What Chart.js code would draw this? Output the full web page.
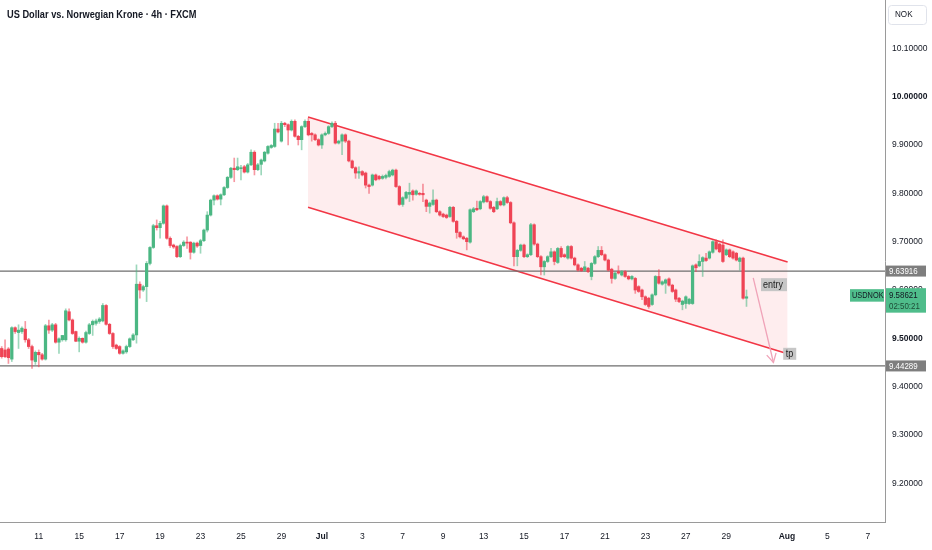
<!DOCTYPE html>
<html>
<head>
<meta charset="utf-8">
<script src="https://cdn.jsdelivr.net/npm/chart.js@4.4.1/dist/chart.umd.min.js"></script>
<style>
  html, body { margin: 0; padding: 0; background: #ffffff; }
  #wrap { position: relative; width: 932px; height: 550px; }
</style>
</head>
<body>
<div id="wrap"><canvas id="chart"></canvas></div>
<script>
// USDNOK 4h candles, 11 Jun - 30 Jul (index 0 = first candle on screen)
const opens = [
  9.479, 9.476, 9.478, 9.457, 9.522, 9.512, 9.514, 9.519, 9.497, 9.483,
  9.452, 9.471, 9.466, 9.457, 9.526, 9.517, 9.528, 9.492, 9.497, 9.497,
  9.555, 9.538, 9.514, 9.494, 9.500, 9.492, 9.510, 9.528, 9.531, 9.535,
  9.536, 9.568, 9.529, 9.510, 9.486, 9.483, 9.469, 9.472, 9.483, 9.497,
  9.507, 9.612, 9.600, 9.607, 9.655, 9.688, 9.733, 9.729, 9.738, 9.774,
  9.707, 9.693, 9.690, 9.669, 9.692, 9.699, 9.699, 9.678, 9.697, 9.692,
  9.702, 9.724, 9.755, 9.786, 9.795, 9.788, 9.797, 9.812, 9.833, 9.852,
  9.849, 9.851, 9.855, 9.844, 9.859, 9.885, 9.849, 9.860, 9.867, 9.883,
  9.895, 9.897, 9.933, 9.908, 9.945, 9.942, 9.931, 9.949, 9.918, 9.911,
  9.938, 9.949, 9.924, 9.921, 9.911, 9.900, 9.921, 9.924, 9.938, 9.945,
  9.904, 9.908, 9.921, 9.908, 9.867, 9.853, 9.842, 9.845, 9.842, 9.817,
  9.817, 9.838, 9.835, 9.831, 9.833, 9.835, 9.838, 9.848, 9.814, 9.777,
  9.790, 9.798, 9.805, 9.798, 9.800, 9.800, 9.786, 9.773, 9.777, 9.786,
  9.762, 9.757, 9.755, 9.752, 9.771, 9.742, 9.719, 9.710, 9.707, 9.699,
  9.762, 9.769, 9.768, 9.782, 9.793, 9.783, 9.771, 9.768, 9.783, 9.776,
  9.791, 9.781, 9.739, 9.669, 9.682, 9.693, 9.669, 9.673, 9.735, 9.695,
  9.669, 9.648, 9.659, 9.669, 9.679, 9.657, 9.686, 9.673, 9.666, 9.690,
  9.666, 9.652, 9.645, 9.641, 9.645, 9.628, 9.655, 9.669, 9.682, 9.673,
  9.662, 9.643, 9.624, 9.638, 9.631, 9.638, 9.628, 9.623, 9.624, 9.607,
  9.600, 9.586, 9.583, 9.570, 9.590, 9.628, 9.612, 9.614, 9.623, 9.610,
  9.600, 9.583, 9.570, 9.572, 9.572, 9.572, 9.652, 9.650, 9.659, 9.666,
  9.666, 9.678, 9.700, 9.695, 9.693, 9.673, 9.683, 9.679, 9.676, 9.659,
  9.666, 9.583
];
const highs = [
  9.483, 9.497, 9.481, 9.524, 9.524, 9.528, 9.524, 9.535, 9.500, 9.486,
  9.474, 9.476, 9.469, 9.529, 9.538, 9.531, 9.531, 9.501, 9.506, 9.561,
  9.561, 9.540, 9.515, 9.503, 9.501, 9.515, 9.531, 9.538, 9.540, 9.543,
  9.572, 9.570, 9.531, 9.512, 9.488, 9.485, 9.476, 9.486, 9.501, 9.510,
  9.652, 9.617, 9.610, 9.659, 9.690, 9.736, 9.745, 9.742, 9.776, 9.776,
  9.710, 9.695, 9.692, 9.695, 9.702, 9.710, 9.700, 9.699, 9.699, 9.705,
  9.726, 9.762, 9.788, 9.797, 9.797, 9.799, 9.814, 9.835, 9.854, 9.873,
  9.873, 9.858, 9.858, 9.862, 9.890, 9.888, 9.862, 9.871, 9.887, 9.899,
  9.901, 9.945, 9.945, 9.949, 9.947, 9.944, 9.952, 9.952, 9.920, 9.940,
  9.952, 9.955, 9.926, 9.923, 9.913, 9.923, 9.927, 9.940, 9.948, 9.949,
  9.910, 9.923, 9.923, 9.910, 9.869, 9.855, 9.855, 9.847, 9.844, 9.819,
  9.840, 9.840, 9.837, 9.838, 9.840, 9.848, 9.850, 9.850, 9.816, 9.793,
  9.804, 9.821, 9.807, 9.807, 9.802, 9.819, 9.788, 9.782, 9.807, 9.788,
  9.764, 9.759, 9.757, 9.773, 9.773, 9.744, 9.721, 9.712, 9.709, 9.768,
  9.771, 9.784, 9.785, 9.796, 9.795, 9.785, 9.773, 9.790, 9.785, 9.793,
  9.794, 9.783, 9.741, 9.684, 9.695, 9.695, 9.675, 9.738, 9.737, 9.697,
  9.671, 9.661, 9.671, 9.686, 9.681, 9.688, 9.690, 9.675, 9.692, 9.692,
  9.668, 9.654, 9.647, 9.659, 9.647, 9.657, 9.671, 9.690, 9.690, 9.675,
  9.664, 9.645, 9.637, 9.650, 9.640, 9.640, 9.630, 9.630, 9.626, 9.609,
  9.602, 9.588, 9.585, 9.592, 9.630, 9.642, 9.619, 9.623, 9.625, 9.612,
  9.602, 9.585, 9.579, 9.588, 9.583, 9.652, 9.654, 9.673, 9.669, 9.676,
  9.681, 9.702, 9.704, 9.697, 9.704, 9.685, 9.685, 9.681, 9.678, 9.668,
  9.668, 9.600
];
const lows = [
  9.459, 9.460, 9.448, 9.452, 9.510, 9.479, 9.510, 9.492, 9.479, 9.438,
  9.446, 9.441, 9.455, 9.455, 9.510, 9.514, 9.490, 9.469, 9.494, 9.494,
  9.536, 9.508, 9.493, 9.472, 9.490, 9.490, 9.508, 9.506, 9.527, 9.531,
  9.534, 9.527, 9.508, 9.479, 9.477, 9.467, 9.467, 9.469, 9.481, 9.495,
  9.490, 9.583, 9.597, 9.576, 9.652, 9.686, 9.724, 9.707, 9.736, 9.705,
  9.688, 9.686, 9.667, 9.667, 9.690, 9.686, 9.664, 9.676, 9.688, 9.676,
  9.700, 9.720, 9.753, 9.776, 9.786, 9.776, 9.795, 9.810, 9.831, 9.824,
  9.847, 9.828, 9.842, 9.842, 9.857, 9.838, 9.847, 9.838, 9.865, 9.881,
  9.893, 9.895, 9.925, 9.906, 9.938, 9.900, 9.929, 9.916, 9.900, 9.890,
  9.936, 9.919, 9.908, 9.909, 9.898, 9.893, 9.919, 9.922, 9.936, 9.902,
  9.902, 9.880, 9.905, 9.865, 9.851, 9.831, 9.831, 9.836, 9.811, 9.800,
  9.815, 9.826, 9.828, 9.829, 9.830, 9.833, 9.836, 9.812, 9.775, 9.773,
  9.788, 9.783, 9.786, 9.796, 9.796, 9.783, 9.762, 9.759, 9.775, 9.760,
  9.753, 9.750, 9.748, 9.750, 9.740, 9.707, 9.708, 9.704, 9.683, 9.697,
  9.760, 9.764, 9.766, 9.780, 9.781, 9.767, 9.760, 9.766, 9.774, 9.774,
  9.779, 9.737, 9.650, 9.650, 9.680, 9.667, 9.667, 9.671, 9.693, 9.667,
  9.631, 9.631, 9.657, 9.667, 9.652, 9.655, 9.667, 9.667, 9.664, 9.664,
  9.650, 9.639, 9.638, 9.639, 9.636, 9.621, 9.653, 9.667, 9.671, 9.660,
  9.639, 9.614, 9.622, 9.633, 9.629, 9.626, 9.621, 9.621, 9.593, 9.595,
  9.580, 9.568, 9.562, 9.568, 9.588, 9.612, 9.610, 9.593, 9.608, 9.595,
  9.576, 9.574, 9.559, 9.562, 9.570, 9.570, 9.638, 9.648, 9.628, 9.659,
  9.664, 9.676, 9.683, 9.677, 9.657, 9.671, 9.667, 9.664, 9.660, 9.641,
  9.581, 9.566
];
const closes = [
  9.462, 9.462, 9.460, 9.522, 9.514, 9.517, 9.521, 9.497, 9.483, 9.455,
  9.471, 9.466, 9.457, 9.526, 9.517, 9.528, 9.492, 9.499, 9.506, 9.557,
  9.538, 9.510, 9.494, 9.500, 9.492, 9.512, 9.528, 9.535, 9.536, 9.540,
  9.568, 9.529, 9.510, 9.483, 9.479, 9.469, 9.474, 9.483, 9.499, 9.507,
  9.612, 9.600, 9.607, 9.655, 9.688, 9.733, 9.729, 9.738, 9.774, 9.707,
  9.692, 9.689, 9.669, 9.692, 9.699, 9.697, 9.678, 9.697, 9.691, 9.702,
  9.724, 9.755, 9.786, 9.795, 9.788, 9.797, 9.812, 9.833, 9.852, 9.849,
  9.855, 9.853, 9.844, 9.859, 9.885, 9.849, 9.859, 9.869, 9.885, 9.897,
  9.899, 9.933, 9.927, 9.945, 9.942, 9.931, 9.949, 9.918, 9.911, 9.938,
  9.949, 9.921, 9.921, 9.911, 9.900, 9.921, 9.924, 9.938, 9.945, 9.904,
  9.908, 9.921, 9.908, 9.867, 9.853, 9.842, 9.845, 9.838, 9.817, 9.814,
  9.838, 9.828, 9.830, 9.835, 9.837, 9.845, 9.848, 9.814, 9.777, 9.791,
  9.802, 9.802, 9.797, 9.805, 9.798, 9.797, 9.773, 9.780, 9.786, 9.762,
  9.755, 9.752, 9.750, 9.771, 9.742, 9.719, 9.710, 9.706, 9.700, 9.766,
  9.768, 9.766, 9.783, 9.793, 9.783, 9.769, 9.762, 9.783, 9.776, 9.791,
  9.781, 9.739, 9.669, 9.682, 9.693, 9.669, 9.673, 9.735, 9.695, 9.669,
  9.648, 9.659, 9.669, 9.679, 9.659, 9.686, 9.669, 9.669, 9.690, 9.666,
  9.652, 9.641, 9.640, 9.648, 9.638, 9.655, 9.669, 9.682, 9.673, 9.662,
  9.641, 9.624, 9.635, 9.635, 9.638, 9.628, 9.623, 9.628, 9.600, 9.597,
  9.586, 9.570, 9.566, 9.590, 9.628, 9.614, 9.617, 9.621, 9.610, 9.597,
  9.581, 9.576, 9.577, 9.586, 9.581, 9.650, 9.646, 9.659, 9.667, 9.661,
  9.679, 9.700, 9.685, 9.679, 9.659, 9.683, 9.669, 9.666, 9.662, 9.666,
  9.583, 9.586
];

// time axis: tick positions are candle indices
const xTickPos = [11, 23, 35, 47, 59, 71, 83, 95, 107, 119, 131, 143, 155, 167, 179, 191, 203, 215, 233, 245, 257];
const xTickLabels = ["11", "15", "17", "19", "23", "25", "29", "Jul", "3", "7", "9", "13", "15", "17", "21", "23", "27", "29", "Aug", "5", "7"];
const yTickValues = [9.2, 9.3, 9.4, 9.5, 9.6, 9.7, 9.8, 9.9, 10.0, 10.1];

// drawings
const levels = [9.63916, 9.44289];
const lastPrice = 9.58621;
const countdown = "02:50:21";
const channelX = [90.9, 233.2];
const channelTop = [9.958, 9.658];
const channelBottom = [9.771, 9.468];
const arrowX = [223.0, 229.0];
const arrowY = [9.625, 9.450];
const entryPos = [225.3, 9.611];
const tpPos = [231.9, 9.468];

const X_MIN = -0.5, X_MAX = 262.1;
const UP = "#4bb783", DOWN = "#ef4455";
const UP_WICK = "rgba(75,183,131,0.55)", DOWN_WICK = "rgba(239,68,85,0.55)";
const FONT = "'Liberation Sans', Arial, sans-serif";

const isUp = i => closes[i] >= opens[i];
const bodies = opens.map((o, i) => ({x: i, y: [o, closes[i]]}));
const wicks = opens.map((o, i) => ({x: i, y: [lows[i], highs[i]]}));

// narrow text: TradingView's font is more condensed than Liberation Sans
function narrowText(ctx, text, x, y, squeeze) {
    ctx.save();
    ctx.translate(x, y);
    ctx.scale(squeeze, 1);
    ctx.fillText(text, 0, 0);
    ctx.restore();
}

const overlay = {
    id: "overlay",
    afterDraw(chart) {
        const {ctx, scales: {x, y}} = chart;
        ctx.save();
        ctx.textBaseline = "middle";
        ctx.textAlign = "left";

        // title
        ctx.fillStyle = "#131722";
        ctx.font = "600 10.5px " + FONT;
        narrowText(ctx, "US Dollar vs. Norwegian Krone \u00b7 4h \u00b7 FXCM", 7, 15, 0.88);

        // currency box
        ctx.fillStyle = "#ffffff";
        ctx.strokeStyle = "#e0e3eb";
        ctx.lineWidth = 1;
        ctx.beginPath();
        ctx.roundRect(888.5, 5.5, 38, 19, 3);
        ctx.fill();
        ctx.stroke();
        ctx.fillStyle = "#131722";
        ctx.font = "9px " + FONT;
        narrowText(ctx, "NOK", 895, 15, 0.9);

        // level tags on the price axis
        levels.forEach(v => {
            const py = y.getPixelForValue(v);
            ctx.fillStyle = "#7e7e7e";
            ctx.fillRect(886, py - 5.5, 40, 11);
            ctx.fillStyle = "#ffffff";
            ctx.font = "9px " + FONT;
            narrowText(ctx, v.toFixed(5), 889, py + 0.5, 0.88);
        });

        // last price tag
        const ly = y.getPixelForValue(lastPrice);
        ctx.fillStyle = "#4fbd8b";
        ctx.fillRect(850, ly - 7.5, 34, 12.5);
        ctx.fillRect(886, ly - 8.5, 40, 24.5);
        ctx.fillStyle = "#131722";
        ctx.font = "9px " + FONT;
        narrowText(ctx, "USDNOK", 852, ly - 1, 0.82);
        narrowText(ctx, lastPrice.toFixed(5), 889, ly - 1.5, 0.88);
        ctx.fillStyle = "#1e4d37";
        narrowText(ctx, countdown, 889, ly + 10, 0.88);

        // arrow head
        const ax0 = x.getPixelForValue(arrowX[0]), ay0 = y.getPixelForValue(arrowY[0]);
        const ax1 = x.getPixelForValue(arrowX[1]), ay1 = y.getPixelForValue(arrowY[1]);
        const ang = Math.atan2(ay1 - ay0, ax1 - ax0);
        ctx.strokeStyle = "#f0a3b8";
        ctx.lineWidth = 1.3;
        ctx.beginPath();
        ctx.moveTo(ax1 - 10 * Math.cos(ang - 0.5), ay1 - 10 * Math.sin(ang - 0.5));
        ctx.lineTo(ax1, ay1);
        ctx.lineTo(ax1 - 10 * Math.cos(ang + 0.5), ay1 - 10 * Math.sin(ang + 0.5));
        ctx.stroke();

        // text labels
        ctx.font = "10px " + FONT;
        const ex = x.getPixelForValue(entryPos[0]), ey = y.getPixelForValue(entryPos[1]);
        ctx.fillStyle = "#c6c6c6";
        ctx.fillRect(ex, ey - 6.5, 26, 13);
        ctx.fillStyle = "#222222";
        narrowText(ctx, "entry", ex + 2, ey + 0.5, 0.9);
        const tx = x.getPixelForValue(tpPos[0]), ty = y.getPixelForValue(tpPos[1]);
        ctx.fillStyle = "#c6c6c6";
        ctx.fillRect(tx, ty - 6, 13, 12);
        ctx.fillStyle = "#222222";
        narrowText(ctx, "tp", tx + 2.5, ty + 0.5, 0.9);

        ctx.restore();
    }
};

new Chart(document.getElementById("chart"), {
    type: "bar",
    data: {
        datasets: [
            {
                data: bodies,
                grouped: false,
                barThickness: 2.6,
                minBarLength: 1,
                borderWidth: 0,
                backgroundColor: c => isUp(c.dataIndex) ? UP : DOWN,
                order: 0,
            },
            {
                data: wicks,
                grouped: false,
                barThickness: 1,
                borderWidth: 0,
                backgroundColor: c => isUp(c.dataIndex) ? UP_WICK : DOWN_WICK,
                order: 1,
            },
            {
                type: "line",
                data: channelX.map((v, i) => ({x: v, y: channelTop[i]})),
                borderColor: "#f23645",
                borderWidth: 1.6,
                pointRadius: 0,
                fill: false,
                order: 3,
            },
            {
                type: "line",
                data: channelX.map((v, i) => ({x: v, y: channelBottom[i]})),
                borderColor: "#f23645",
                borderWidth: 1.6,
                pointRadius: 0,
                fill: "-1",
                backgroundColor: "rgba(242,54,69,0.09)",
                order: 3,
            },
            ...levels.map(v => ({
                type: "line",
                data: [{x: X_MIN, y: v}, {x: X_MAX, y: v}],
                borderColor: "#6e6e6e",
                borderWidth: 1.2,
                pointRadius: 0,
                fill: false,
                order: 2,
            })),
            {
                type: "line",
                data: arrowX.map((v, i) => ({x: v, y: arrowY[i]})),
                borderColor: "#f0a3b8",
                borderWidth: 1.3,
                pointRadius: 0,
                fill: false,
                order: 2,
            },
        ],
    },
    options: {
        responsive: true,
        maintainAspectRatio: false,
        animation: false,
        layout: {padding: 0},
        plugins: {
            legend: {display: false},
            tooltip: {enabled: false},
        },
        scales: {
            x: {
                type: "linear",
                min: X_MIN,
                max: X_MAX,
                offset: false,
                grid: {display: false, drawTicks: false},
                border: {display: true, color: "#9a9a9a", width: 1},
                afterBuildTicks: axis => {
                    axis.ticks = xTickPos.map(v => ({value: v}));
                },
                afterFit: s => {
                    s.height = 28;
                    s.paddingLeft = 0;
                    s.paddingRight = 0;
                },
                ticks: {
                    autoSkip: false,
                    maxRotation: 0,
                    padding: 10,
                    color: "#131722",
                    font: c => ({family: FONT, size: 8.5, weight: /^[A-Z]/.test(xTickLabels[c.index] || "") ? "bold" : "normal"}),
                    callback: (v, i) => xTickLabels[i],
                },
            },
            y: {
                position: "right",
                min: 9.12,
                max: 10.2,
                grid: {display: false, drawTicks: false},
                border: {display: true, color: "#9a9a9a", width: 1},
                afterBuildTicks: axis => {
                    axis.ticks = yTickValues.map(v => ({value: v}));
                },
                afterFit: s => {
                    s.width = 47;
                    s.paddingTop = 0;
                    s.paddingBottom = 0;
                },
                ticks: {
                    padding: 7,
                    color: "#131722",
                    font: c => ({family: FONT, size: 8.5, weight: c.tick && Math.abs(c.tick.value * 2 - Math.round(c.tick.value * 2)) < 1e-6 ? "bold" : "normal"}),
                    callback: v => Number(v).toFixed(5),
                },
            },
        },
    },
    plugins: [overlay],
});
</script>
</body>
</html>
